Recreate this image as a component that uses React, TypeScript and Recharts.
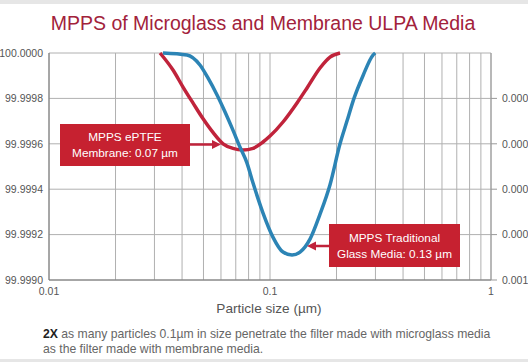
import React from "react";
import { LineChart, Line, XAxis, YAxis, CartesianGrid } from "recharts";

// particle size (µm) and efficiency (%)
const membraneSize = [
  0.0318, 0.0364, 0.0404, 0.0448, 0.0498, 0.0552, 0.0613, 0.068, 0.0755,
  0.0838, 0.093, 0.1, 0.1145, 0.1325, 0.1471, 0.1684, 0.1869, 0.2074,
];
const membraneEff = [
  100, 99.999925, 99.99985, 99.99978, 99.99971, 99.99965, 99.9996, 99.99958,
  99.999573, 99.99958, 99.999608, 99.999634, 99.999696, 99.99978, 99.999846,
  99.999934, 99.999982, 100,
];

const glassSize = [
  0.0328, 0.0421, 0.0482, 0.0524, 0.0576, 0.0626, 0.0673, 0.0731, 0.0787,
  0.0838, 0.093, 0.1031, 0.1145, 0.1258, 0.1367, 0.1517, 0.1684, 0.1869,
  0.2074, 0.223, 0.2399, 0.2635, 0.2924, 0.2994,
];
const glassEff = [
  100, 99.999991, 99.999947, 99.99989, 99.999815, 99.99974, 99.99967,
  99.999586, 99.999515, 99.999427, 99.999295, 99.999189, 99.999123, 99.99911,
  99.999123, 99.99918, 99.99929, 99.99942, 99.9996, 99.9997, 99.9998, 99.9999,
  99.999991, 100,
];

const sizeTicks = [
  0.01, 0.02, 0.03, 0.04, 0.05, 0.06, 0.07, 0.08, 0.09, 0.1, 0.2, 0.3, 0.4,
  0.5, 0.6, 0.7, 0.8, 0.9, 1,
];
const sizeLabels = [0.01, 0.1, 1];
const effTicks = [99.999, 99.9992, 99.9994, 99.9996, 99.9998, 100];
const penTicks = [0.0002, 0.0004, 0.0006, 0.0008, 0.001];

const membraneData = membraneSize.map((s, i) => ({ size: s, eff: membraneEff[i] }));
const glassData = glassSize.map((s, i) => ({
  size: s,
  eff: glassEff[i],
  pen: 100 - glassEff[i],
}));

const FONT = "'Liberation Sans', Arial, sans-serif";
const RED = "#c0233b";
const BLUE = "#2c84b5";
const BOX = "#c62130";

const App = () => {
  return (
    <div
      style={{
        position: "absolute",
        left: 0,
        top: 0,
        width: 528,
        height: 362,
        background: "#fff",
        fontFamily: FONT,
        overflow: "hidden",
      }}
    >
      <LineChart
        width={528}
        height={362}
        margin={{ top: 53, right: 0, bottom: 52, left: 0 }}
      >
        <CartesianGrid stroke="#b0b0b0" yAxisId="eff" />
        <XAxis
          dataKey="size"
          type="number"
          scale="log"
          domain={[0.01, 1]}
          ticks={sizeTicks}
          interval={0}
          height={30}
          tickLine={false}
          axisLine={{ stroke: "#777" }}
          tick={{ fill: "#555", fontSize: 10.5, fontFamily: FONT }}
          tickFormatter={(v: number) => (sizeLabels.includes(v) ? String(v) : "")}
        />
        <YAxis
          yAxisId="eff"
          type="number"
          domain={[99.999, 100]}
          ticks={effTicks}
          interval={0}
          width={49}
          tickLine={false}
          tickSize={4}
          tickMargin={2}
          axisLine={{ stroke: "#777" }}
          tick={{ fill: "#555", fontSize: 10.5, fontFamily: FONT }}
          tickFormatter={(v: number) => v.toFixed(4)}
        />
        <YAxis
          yAxisId="pen"
          orientation="right"
          type="number"
          domain={[0, 0.001]}
          allowDataOverflow
          reversed
          ticks={penTicks}
          interval={0}
          width={37}
          tickSize={6}
          tickMargin={5}
          axisLine={{ stroke: "#999" }}
          tickLine={{ stroke: "#999" }}
          tick={{ fill: "#555", fontSize: 10.5, fontFamily: FONT, textAnchor: "start" }}
          tickFormatter={(v: number) => v.toFixed(4)}
        />
        {/* penetration on the right axis, same curve as glass, kept invisible */}
        <Line
          yAxisId="pen"
          data={glassData}
          dataKey="pen"
          type="monotone"
          stroke="transparent"
          dot={false}
          activeDot={false}
          isAnimationActive={false}
        />
        <Line
          yAxisId="eff"
          data={membraneData}
          dataKey="eff"
          type="monotone"
          stroke={RED}
          strokeWidth={3.5}
          dot={false}
          isAnimationActive={false}
        />
        <Line
          yAxisId="eff"
          data={glassData}
          dataKey="eff"
          type="monotone"
          stroke={BLUE}
          strokeWidth={3.5}
          dot={false}
          isAnimationActive={false}
        />
      </LineChart>

      <svg
        width={528}
        height={362}
        style={{ position: "absolute", left: 0, top: 0, pointerEvents: "none" }}
      >
        <rect x={0} y={0} width={528} height={4} fill="#e6e6e6" />
        <rect x={0} y={359} width={528} height={3} fill="#e6e6e6" />
        <text
          x={263}
          y={29.5}
          textAnchor="middle"
          fontSize={19.5}
          fill="#a2223b"
          fontFamily={FONT}
        >
          MPPS of Microglass and Membrane ULPA Media
        </text>
        <text x={269} y={313} textAnchor="middle" fontSize={13.6} fill="#555" fontFamily={FONT}>
          Particle size (µm)
        </text>
        <text x={43} y={338} fontSize={12.2} fill="#666" fontFamily={FONT}>
          <tspan fontWeight="bold" fill="#222">2X</tspan> as many particles 0.1µm in size penetrate the filter made with microglass media
        </text>
        <text x={43} y={353} fontSize={12.2} fill="#666" fontFamily={FONT}>
          as the filter made with membrane media.
        </text>

        {/* membrane callout */}
        <rect x={60} y={124} width={130} height={42} fill={BOX} />
        <text x={125} y={140.5} textAnchor="middle" fontSize={11.8} fill="#fff" fontFamily={FONT}>
          MPPS ePTFE
        </text>
        <text x={125} y={156.5} textAnchor="middle" fontSize={11.8} fill="#fff" fontFamily={FONT}>
          Membrane: 0.07 µm
        </text>
        <line x1={190} y1={144.5} x2={214} y2={144.5} stroke={RED} strokeWidth={2.5} />
        <polygon points="221,144.5 212,140 212,149" fill={RED} />

        {/* glass callout */}
        <rect x={329} y={224} width={131} height={43} fill={BOX} />
        <text x={394.5} y={241.5} textAnchor="middle" fontSize={11.8} fill="#fff" fontFamily={FONT}>
          MPPS Traditional
        </text>
        <text x={394.5} y={258} textAnchor="middle" fontSize={11.8} fill="#fff" fontFamily={FONT}>
          Glass Media: 0.13 µm
        </text>
        <line x1={329} y1={246} x2={314} y2={246} stroke={RED} strokeWidth={2.5} />
        <polygon points="307,246 316,241.5 316,250.5" fill={RED} />
      </svg>
    </div>
  );
};

export default App;
